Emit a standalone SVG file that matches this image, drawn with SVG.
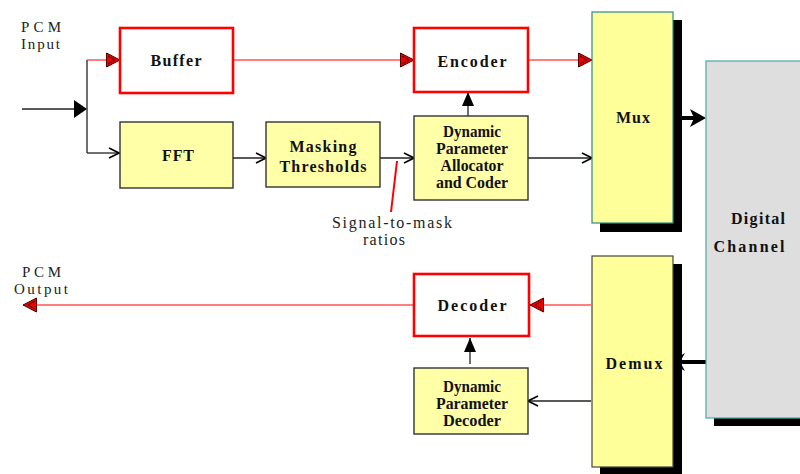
<svg xmlns="http://www.w3.org/2000/svg" width="800" height="474" viewBox="0 0 800 474">
<style>
.t{font-family:'Liberation Serif','Times New Roman',serif;font-weight:bold;font-size:16px;fill:#111;text-anchor:middle}
.p{font-family:'Liberation Serif','Times New Roman',serif;font-size:16px;fill:#222}
.q{font-family:'Liberation Serif','Times New Roman',serif;font-size:15px;fill:#222}
.redbox{fill:#fff;stroke:#f00;stroke-width:2.6}
.ybox{fill:#ffffa8;stroke:#333;stroke-width:1.4}
.shadow{fill:#000}
.ln{stroke:#222;stroke-width:1.3;fill:none}
.rl{stroke:#f00;stroke-width:1.2;fill:none}
.rl2{stroke:#f55;stroke-width:1.4;fill:none}
</style>
<defs>
<marker id="ra" viewBox="0 0 14 16" refX="14" refY="8" markerWidth="14" markerHeight="16" markerUnits="userSpaceOnUse" orient="auto">
<path d="M0.5,1 L14,8 L0.5,15 Z" fill="#e00" stroke="#500" stroke-width="1"/>
<path d="M2,4 L9,8 L2,12" fill="none" stroke="#500" stroke-width="1"/>
</marker>
<marker id="oa" viewBox="0 0 12 12" refX="11" refY="6" markerWidth="12" markerHeight="12" markerUnits="userSpaceOnUse" orient="auto">
<path d="M1,1 L11,6 L1,11" fill="none" stroke="#000" stroke-width="1.6"/>
</marker>
<marker id="fa" viewBox="0 0 14 12" refX="14" refY="6" markerWidth="14" markerHeight="12" markerUnits="userSpaceOnUse" orient="auto">
<path d="M0,0 L14,6 L0,12 Z" fill="#000"/>
</marker>
</defs>

<g id="connectors">
<line class="ln" x1="22" y1="109" x2="80" y2="109"/>
<polygon points="74,100 87,109 74,118" fill="#000"/>
<line class="ln" x1="87" y1="60" x2="87" y2="153" stroke="#555"/>
<line class="rl" x1="87" y1="60" x2="120" y2="60" marker-end="url(#ra)"/>
<polyline class="ln" points="87,153 119,153" marker-end="url(#oa)"/>
<line class="rl" x1="233" y1="60" x2="414" y2="60" marker-end="url(#ra)"/>
<line class="rl" x1="528" y1="60" x2="592" y2="60" marker-end="url(#ra)"/>
<line class="ln" x1="233" y1="158" x2="266" y2="158" marker-end="url(#oa)"/>
<line class="ln" x1="380" y1="158" x2="414" y2="158" marker-end="url(#oa)"/>
<line class="ln" x1="528" y1="158" x2="592" y2="158" marker-end="url(#oa)"/>
<line class="ln" x1="468" y1="116" x2="468" y2="92" marker-end="url(#fa)" stroke="#444"/>
<line x1="397" y1="161" x2="391" y2="212" stroke="#f00" stroke-width="2"/>
<line x1="673" y1="118" x2="694" y2="118" stroke="#000" stroke-width="4"/>
<polygon points="690,109 706,118 690,127 694,118" fill="#000"/>
<line x1="706" y1="362" x2="680" y2="362" stroke="#000" stroke-width="4"/>
<polygon points="670,362 685,353 680,362 685,371" fill="#000"/>
<line class="rl2" x1="591" y1="305" x2="530" y2="305" marker-end="url(#ra)"/>
<line class="rl2" x1="414" y1="305" x2="23" y2="305" marker-end="url(#ra)"/>
<line class="ln" x1="470" y1="364" x2="470" y2="338" marker-end="url(#fa)"/>
<line class="ln" x1="591" y1="401" x2="528" y2="401" marker-end="url(#oa)"/>
</g>

<g id="pcm-input">
<text class="q" x="21" y="32" textLength="40" lengthAdjust="spacing">PCM</text>
<text class="q" x="21" y="49" textLength="39" lengthAdjust="spacing">Input</text>
</g>
<g id="pcm-output">
<text class="q" x="22" y="277" textLength="39" lengthAdjust="spacing">PCM</text>
<text class="q" x="14" y="294" textLength="54" lengthAdjust="spacing">Output</text>
</g>

<g id="buffer">
<rect class="redbox" x="120" y="28" width="113" height="65"/>
<text class="t" x="176" y="66" textLength="51" lengthAdjust="spacing">Buffer</text>
</g>
<g id="fft">
<rect class="ybox" x="120" y="122" width="113" height="66"/>
<text class="t" x="178" y="161" textLength="32" lengthAdjust="spacing">FFT</text>
</g>
<g id="masking">
<rect class="ybox" x="266" y="122" width="114" height="65"/>
<text class="t" x="323" y="152" textLength="67" lengthAdjust="spacing">Masking</text>
<text class="t" x="323" y="172" textLength="87" lengthAdjust="spacing">Thresholds</text>
</g>
<g id="encoder">
<rect class="redbox" x="414" y="28" width="114" height="64"/>
<text class="t" x="472" y="67" textLength="69" lengthAdjust="spacing">Encoder</text>
</g>
<g id="allocator">
<rect class="ybox" x="414" y="116" width="114" height="84"/>
<text class="t" x="472" y="137" textLength="58" lengthAdjust="spacingAndGlyphs">Dynamic</text>
<text class="t" x="472" y="154" textLength="72" lengthAdjust="spacingAndGlyphs">Parameter</text>
<text class="t" x="472" y="171" textLength="63" lengthAdjust="spacingAndGlyphs">Allocator</text>
<text class="t" x="472" y="188" textLength="72" lengthAdjust="spacingAndGlyphs">and Coder</text>
</g>
<g id="smr-label">
<text class="p" x="392" y="228" text-anchor="middle" textLength="120" lengthAdjust="spacing">Signal-to-mask</text>
<text class="p" x="384" y="245" text-anchor="middle" textLength="42" lengthAdjust="spacing">ratios</text>
</g>
<g id="mux">
<rect class="shadow" x="600" y="20" width="82" height="212"/>
<rect x="592" y="12" width="81" height="211" fill="#ffff99" stroke="#2a8a8a" stroke-width="1.2"/>
<text class="t" x="633" y="123" textLength="34" lengthAdjust="spacing">Mux</text>
</g>
<g id="channel">
<rect class="shadow" x="714" y="69" width="90" height="357"/>
<rect x="706" y="61" width="100" height="357" fill="#dedede" stroke="#4aa8a8" stroke-width="1.2"/>
<text class="t" x="758" y="224" textLength="54" lengthAdjust="spacing">Digital</text>
<text class="t" x="749" y="252" textLength="71" lengthAdjust="spacing">Channel</text>
</g>
<g id="demux">
<rect class="shadow" x="600" y="264" width="82" height="212"/>
<rect x="592" y="256" width="81" height="211" fill="#ffff99" stroke="#444" stroke-width="1.2"/>
<text class="t" x="634" y="369" textLength="57" lengthAdjust="spacing">Demux</text>
</g>
<g id="decoder">
<rect class="redbox" x="414" y="274" width="115" height="62"/>
<text class="t" x="472" y="311" textLength="69" lengthAdjust="spacing">Decoder</text>
</g>
<g id="param-decoder">
<rect class="ybox" x="414" y="368" width="114" height="66"/>
<text class="t" x="472" y="392" textLength="58" lengthAdjust="spacingAndGlyphs">Dynamic</text>
<text class="t" x="472" y="409" textLength="72" lengthAdjust="spacingAndGlyphs">Parameter</text>
<text class="t" x="472" y="426" textLength="58" lengthAdjust="spacingAndGlyphs">Decoder</text>
</g>
</svg>
